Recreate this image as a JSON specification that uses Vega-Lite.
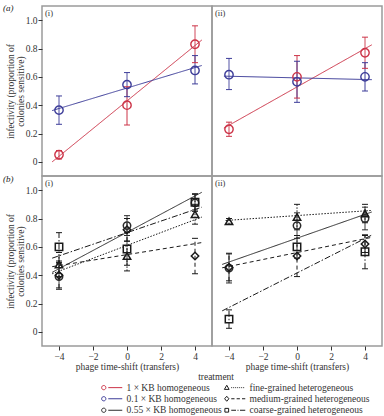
{
  "$schema": "https://vega.github.io/schema/vega-lite/v6.json",
  "padding": {"left": 2, "top": 3, "right": 3, "bottom": 2},
  "bounds": "flush",
  "spacing": 0,
  "columns": 2,
  "datasets": {
    "points": [
      {"panel": "a-i", "treatment": "1 × KB homogeneous", "shift": -4, "infectivity": 0.05, "lo": 0.02, "hi": 0.08},
      {"panel": "a-i", "treatment": "1 × KB homogeneous", "shift": 0, "infectivity": 0.40, "lo": 0.26, "hi": 0.53},
      {"panel": "a-i", "treatment": "1 × KB homogeneous", "shift": 4, "infectivity": 0.83, "lo": 0.70, "hi": 0.96},
      {"panel": "a-i", "treatment": "0.1 × KB homogeneous", "shift": -4, "infectivity": 0.365, "lo": 0.265, "hi": 0.465},
      {"panel": "a-i", "treatment": "0.1 × KB homogeneous", "shift": 0, "infectivity": 0.545, "lo": 0.46, "hi": 0.63},
      {"panel": "a-i", "treatment": "0.1 × KB homogeneous", "shift": 4, "infectivity": 0.645, "lo": 0.55, "hi": 0.75},
      {"panel": "a-ii", "treatment": "1 × KB homogeneous", "shift": -4, "infectivity": 0.23, "lo": 0.18, "hi": 0.28},
      {"panel": "a-ii", "treatment": "1 × KB homogeneous", "shift": 0, "infectivity": 0.60, "lo": 0.45, "hi": 0.75},
      {"panel": "a-ii", "treatment": "1 × KB homogeneous", "shift": 4, "infectivity": 0.77, "lo": 0.66, "hi": 0.88},
      {"panel": "a-ii", "treatment": "0.1 × KB homogeneous", "shift": -4, "infectivity": 0.615, "lo": 0.51, "hi": 0.73},
      {"panel": "a-ii", "treatment": "0.1 × KB homogeneous", "shift": 0, "infectivity": 0.565, "lo": 0.42, "hi": 0.71},
      {"panel": "a-ii", "treatment": "0.1 × KB homogeneous", "shift": 4, "infectivity": 0.60, "lo": 0.50, "hi": 0.70},
      {"panel": "b-i", "treatment": "0.55 × KB homogeneous", "shift": -4, "infectivity": 0.39, "lo": 0.30, "hi": 0.48},
      {"panel": "b-i", "treatment": "0.55 × KB homogeneous", "shift": 0, "infectivity": 0.75, "lo": 0.68, "hi": 0.82},
      {"panel": "b-i", "treatment": "0.55 × KB homogeneous", "shift": 4, "infectivity": 0.91, "lo": 0.85, "hi": 0.97},
      {"panel": "b-i", "treatment": "fine-grained heterogeneous", "shift": -4, "infectivity": 0.475, "lo": 0.39, "hi": 0.56},
      {"panel": "b-i", "treatment": "fine-grained heterogeneous", "shift": 0, "infectivity": 0.535, "lo": 0.43, "hi": 0.64},
      {"panel": "b-i", "treatment": "fine-grained heterogeneous", "shift": 4, "infectivity": 0.83, "lo": 0.76, "hi": 0.90},
      {"panel": "b-i", "treatment": "medium-grained heterogeneous", "shift": -4, "infectivity": 0.40, "lo": 0.31, "hi": 0.49},
      {"panel": "b-i", "treatment": "medium-grained heterogeneous", "shift": 0, "infectivity": 0.72, "lo": 0.64, "hi": 0.80},
      {"panel": "b-i", "treatment": "medium-grained heterogeneous", "shift": 4, "infectivity": 0.535, "lo": 0.41, "hi": 0.66},
      {"panel": "b-i", "treatment": "coarse-grained heterogeneous", "shift": -4, "infectivity": 0.60, "lo": 0.50, "hi": 0.70},
      {"panel": "b-i", "treatment": "coarse-grained heterogeneous", "shift": 0, "infectivity": 0.585, "lo": 0.47, "hi": 0.70},
      {"panel": "b-i", "treatment": "coarse-grained heterogeneous", "shift": 4, "infectivity": 0.915, "lo": 0.86, "hi": 0.975},
      {"panel": "b-ii", "treatment": "0.55 × KB homogeneous", "shift": -4, "infectivity": 0.45, "lo": 0.345, "hi": 0.555},
      {"panel": "b-ii", "treatment": "0.55 × KB homogeneous", "shift": 0, "infectivity": 0.75, "lo": 0.66, "hi": 0.84},
      {"panel": "b-ii", "treatment": "0.55 × KB homogeneous", "shift": 4, "infectivity": 0.80, "lo": 0.72, "hi": 0.88},
      {"panel": "b-ii", "treatment": "fine-grained heterogeneous", "shift": -4, "infectivity": 0.78, "lo": 0.76, "hi": 0.80},
      {"panel": "b-ii", "treatment": "fine-grained heterogeneous", "shift": 0, "infectivity": 0.81, "lo": 0.72, "hi": 0.90},
      {"panel": "b-ii", "treatment": "fine-grained heterogeneous", "shift": 4, "infectivity": 0.835, "lo": 0.77, "hi": 0.90},
      {"panel": "b-ii", "treatment": "medium-grained heterogeneous", "shift": -4, "infectivity": 0.455, "lo": 0.36, "hi": 0.55},
      {"panel": "b-ii", "treatment": "medium-grained heterogeneous", "shift": 0, "infectivity": 0.535, "lo": 0.39, "hi": 0.68},
      {"panel": "b-ii", "treatment": "medium-grained heterogeneous", "shift": 4, "infectivity": 0.62, "lo": 0.56, "hi": 0.68},
      {"panel": "b-ii", "treatment": "coarse-grained heterogeneous", "shift": -4, "infectivity": 0.09, "lo": 0.025, "hi": 0.155},
      {"panel": "b-ii", "treatment": "coarse-grained heterogeneous", "shift": 0, "infectivity": 0.60, "lo": 0.52, "hi": 0.68},
      {"panel": "b-ii", "treatment": "coarse-grained heterogeneous", "shift": 4, "infectivity": 0.565, "lo": 0.445, "hi": 0.685}
    ],
    "fits": [
      {"panel": "a-i", "treatment": "1 × KB homogeneous", "shift": -4.4, "fit": 0.0},
      {"panel": "a-i", "treatment": "1 × KB homogeneous", "shift": 4.4, "fit": 0.86},
      {"panel": "a-i", "treatment": "0.1 × KB homogeneous", "shift": -4.4, "fit": 0.362},
      {"panel": "a-i", "treatment": "0.1 × KB homogeneous", "shift": 4.4, "fit": 0.68},
      {"panel": "a-ii", "treatment": "1 × KB homogeneous", "shift": -4.3, "fit": 0.238},
      {"panel": "a-ii", "treatment": "1 × KB homogeneous", "shift": 4.4, "fit": 0.826},
      {"panel": "a-ii", "treatment": "0.1 × KB homogeneous", "shift": -4.3, "fit": 0.605},
      {"panel": "a-ii", "treatment": "0.1 × KB homogeneous", "shift": 4.4, "fit": 0.58},
      {"panel": "b-i", "treatment": "0.55 × KB homogeneous", "shift": -4.4, "fit": 0.42},
      {"panel": "b-i", "treatment": "0.55 × KB homogeneous", "shift": 4.4, "fit": 0.985},
      {"panel": "b-i", "treatment": "fine-grained heterogeneous", "shift": -4.4, "fit": 0.41},
      {"panel": "b-i", "treatment": "fine-grained heterogeneous", "shift": 4.4, "fit": 0.81},
      {"panel": "b-i", "treatment": "medium-grained heterogeneous", "shift": -4.4, "fit": 0.46},
      {"panel": "b-i", "treatment": "medium-grained heterogeneous", "shift": 4.4, "fit": 0.63},
      {"panel": "b-i", "treatment": "coarse-grained heterogeneous", "shift": -4.4, "fit": 0.52},
      {"panel": "b-i", "treatment": "coarse-grained heterogeneous", "shift": 4.4, "fit": 0.88},
      {"panel": "b-ii", "treatment": "0.55 × KB homogeneous", "shift": -4.4, "fit": 0.476},
      {"panel": "b-ii", "treatment": "0.55 × KB homogeneous", "shift": 4.4, "fit": 0.846},
      {"panel": "b-ii", "treatment": "fine-grained heterogeneous", "shift": -4.2, "fit": 0.786},
      {"panel": "b-ii", "treatment": "fine-grained heterogeneous", "shift": 4.4, "fit": 0.857},
      {"panel": "b-ii", "treatment": "medium-grained heterogeneous", "shift": -4.4, "fit": 0.452},
      {"panel": "b-ii", "treatment": "medium-grained heterogeneous", "shift": 4.4, "fit": 0.667},
      {"panel": "b-ii", "treatment": "coarse-grained heterogeneous", "shift": -4.4, "fit": 0.148},
      {"panel": "b-ii", "treatment": "coarse-grained heterogeneous", "shift": 4.4, "fit": 0.683}
    ]
  },
  "concat": [
    {
      "width": 170, "height": 170,
      "layer": [
        {"data": {"name": "fits"}, "transform": [{"filter": "datum.panel === 'a-i'"}],
         "mark": {"type": "line", "strokeWidth": 1},
         "encoding": {
           "x": {"field": "shift", "type": "quantitative", "scale": {"domain": [-5, 5], "nice": false}, "axis": null},
           "y": {"field": "fit", "type": "quantitative", "scale": {"domain": [-0.1, 1.1], "nice": false, "zero": false},
                 "axis": {"title": ["infectivity (proportion of", "colonies sensitive)"], "values": [0, 0.2, 0.4, 0.6, 0.8, 1], "labelExpr": "datum.value === 0 ? '0' : format(datum.value, '.1f')", "titlePadding": 0, "titleLineHeight": 9.5, "labelOverlap": false}},
           "color": {"field": "treatment", "type": "nominal",
             "scale": {"domain": ["1 × KB homogeneous", "0.1 × KB homogeneous", "0.55 × KB homogeneous", "fine-grained heterogeneous", "medium-grained heterogeneous", "coarse-grained heterogeneous"],
                       "range": ["#cc3347", "#3d3d99", "#2b2b2b", "#1a1a1a", "#1a1a1a", "#1a1a1a"]}},
           "strokeDash": {"field": "treatment", "type": "nominal", "legend": null,
             "scale": {"range": [[1, 0], [1, 0], [1, 0], [6, 2, 1.5, 2], [1.5, 1.5], [4, 3]]}}
         }},
        {"data": {"name": "points"}, "transform": [{"filter": "datum.panel === 'a-i'"}],
         "mark": {"type": "rule", "strokeWidth": 1},
         "encoding": {
           "x": {"field": "shift", "type": "quantitative", "axis": null},
           "y": {"field": "lo", "type": "quantitative",
                 "axis": {"title": ["infectivity (proportion of", "colonies sensitive)"], "values": [0, 0.2, 0.4, 0.6, 0.8, 1], "labelExpr": "datum.value === 0 ? '0' : format(datum.value, '.1f')", "titlePadding": 0, "titleLineHeight": 9.5, "labelOverlap": false}},
           "y2": {"field": "hi"},
           "color": {"field": "treatment", "type": "nominal"},
           "strokeDash": {"field": "treatment", "type": "nominal", "legend": null}
         }},
        {"data": {"name": "points"}, "transform": [{"filter": "datum.panel === 'a-i'"}, {"fold": ["lo", "hi"], "as": ["end", "bound"]}],
         "mark": {"type": "point", "shape": "stroke", "size": 36, "strokeWidth": 1, "opacity": 1},
         "encoding": {
           "x": {"field": "shift", "type": "quantitative", "axis": null},
           "y": {"field": "bound", "type": "quantitative",
                 "axis": {"title": ["infectivity (proportion of", "colonies sensitive)"], "values": [0, 0.2, 0.4, 0.6, 0.8, 1], "labelExpr": "datum.value === 0 ? '0' : format(datum.value, '.1f')", "titlePadding": 0, "titleLineHeight": 9.5, "labelOverlap": false}},
           "color": {"field": "treatment", "type": "nominal"}
         }},
        {"data": {"name": "points"}, "transform": [{"filter": "datum.panel === 'a-i'"}],
         "mark": {"type": "point", "filled": false, "size": 70, "strokeWidth": 1.4, "opacity": 1, "shape": "circle"},
         "encoding": {
           "x": {"field": "shift", "type": "quantitative", "axis": null},
           "y": {"field": "infectivity", "type": "quantitative",
                 "axis": {"title": ["infectivity (proportion of", "colonies sensitive)"], "values": [0, 0.2, 0.4, 0.6, 0.8, 1], "labelExpr": "datum.value === 0 ? '0' : format(datum.value, '.1f')", "titlePadding": 0, "titleLineHeight": 9.5, "labelOverlap": false}},
           "color": {"field": "treatment", "type": "nominal", "legend": {"title": "treatment"}}
         }},
        {"description": "legend key: marker plus line sample per treatment, drawn at zero size in the plot",
         "data": {"name": "points"}, "transform": [{"filter": "datum.panel === 'a-i'"}],
         "mark": {"type": "point", "filled": false, "size": 0, "strokeWidth": 1, "opacity": 1},
         "encoding": {
           "x": {"field": "shift", "type": "quantitative", "axis": null},
           "y": {"field": "infectivity", "type": "quantitative",
                 "axis": {"title": ["infectivity (proportion of", "colonies sensitive)"], "values": [0, 0.2, 0.4, 0.6, 0.8, 1], "labelExpr": "datum.value === 0 ? '0' : format(datum.value, '.1f')", "titlePadding": 0, "titleLineHeight": 9.5, "labelOverlap": false}},
           "color": {"field": "treatment", "type": "nominal", "legend": {"title": "treatment"}},
           "shape": {"field": "treatment", "type": "nominal", "legend": {"title": "treatment"},
             "scale": {"domain": ["1 × KB homogeneous", "0.1 × KB homogeneous", "0.55 × KB homogeneous", "fine-grained heterogeneous", "medium-grained heterogeneous", "coarse-grained heterogeneous"],
                       "range": [
                         "M-0.85,0A0.85,0.85,0,1,0,0.85,0A0.85,0.85,0,1,0,-0.85,0ZM1.8,0H7.4",
                         "M-0.85,0A0.85,0.85,0,1,0,0.85,0A0.85,0.85,0,1,0,-0.85,0ZM1.8,0H7.4",
                         "M-0.85,0A0.85,0.85,0,1,0,0.85,0A0.85,0.85,0,1,0,-0.85,0ZM1.8,0H7.4",
                         "M0,-0.95L0.95,0.7L-0.95,0.7ZM1.8,0h0.35M2.6,0h0.35M3.4,0h0.35M4.2,0h0.35M5,0h0.35M5.8,0h0.35M6.6,0h0.35",
                         "M0,-1L0.85,0L0,1L-0.85,0ZM1.8,0h1.3M3.95,0h1.3M6.1,0h1.3",
                         "M-0.75,-0.75H0.75V0.75H-0.75ZM1.8,0h1.9M4.3,0h0.4M5.3,0h2.1"
                       ]}}
         }},
        {"data": {"values": [{"label": "(i)"}]},
         "mark": {"type": "text", "align": "left", "baseline": "top", "dx": 3, "dy": 3, "fontSize": 8.5, "color": "#333"},
         "encoding": {
           "x": {"datum": -5, "type": "quantitative", "axis": null},
           "y": {"datum": 1.1, "type": "quantitative",
                 "axis": {"title": ["infectivity (proportion of", "colonies sensitive)"], "values": [0, 0.2, 0.4, 0.6, 0.8, 1], "labelExpr": "datum.value === 0 ? '0' : format(datum.value, '.1f')", "titlePadding": 0, "titleLineHeight": 9.5, "labelOverlap": false}},
           "text": {"field": "label"}}},
        {"data": {"values": [{"label": "(a)"}]},
         "mark": {"type": "text", "align": "left", "baseline": "top", "dx": -39, "dy": -2, "fontSize": 9, "fontStyle": "italic", "color": "#222"},
         "encoding": {
           "x": {"datum": -5, "type": "quantitative", "axis": null},
           "y": {"datum": 1.1, "type": "quantitative",
                 "axis": {"title": ["infectivity (proportion of", "colonies sensitive)"], "values": [0, 0.2, 0.4, 0.6, 0.8, 1], "labelExpr": "datum.value === 0 ? '0' : format(datum.value, '.1f')", "titlePadding": 0, "titleLineHeight": 9.5, "labelOverlap": false}},
           "text": {"field": "label"}}}
      ]
    },
    {
      "width": 170, "height": 170,
      "layer": [
        {"data": {"name": "fits"}, "transform": [{"filter": "datum.panel === 'a-ii'"}],
         "mark": {"type": "line", "strokeWidth": 1},
         "encoding": {
           "x": {"field": "shift", "type": "quantitative", "scale": {"domain": [-5, 5], "nice": false}, "axis": null},
           "y": {"field": "fit", "type": "quantitative", "scale": {"domain": [-0.1, 1.1], "nice": false, "zero": false}, "axis": null},
           "color": {"field": "treatment", "type": "nominal"},
           "strokeDash": {"field": "treatment", "type": "nominal", "legend": null}
         }},
        {"data": {"name": "points"}, "transform": [{"filter": "datum.panel === 'a-ii'"}],
         "mark": {"type": "rule", "strokeWidth": 1},
         "encoding": {
           "x": {"field": "shift", "type": "quantitative", "axis": null},
           "y": {"field": "lo", "type": "quantitative", "axis": null},
           "y2": {"field": "hi"},
           "color": {"field": "treatment", "type": "nominal"},
           "strokeDash": {"field": "treatment", "type": "nominal", "legend": null}
         }},
        {"data": {"name": "points"}, "transform": [{"filter": "datum.panel === 'a-ii'"}, {"fold": ["lo", "hi"], "as": ["end", "bound"]}],
         "mark": {"type": "point", "shape": "stroke", "size": 36, "strokeWidth": 1, "opacity": 1},
         "encoding": {
           "x": {"field": "shift", "type": "quantitative", "axis": null},
           "y": {"field": "bound", "type": "quantitative", "axis": null},
           "color": {"field": "treatment", "type": "nominal"}
         }},
        {"data": {"name": "points"}, "transform": [{"filter": "datum.panel === 'a-ii'"}],
         "mark": {"type": "point", "filled": false, "size": 70, "strokeWidth": 1.4, "opacity": 1, "shape": "circle"},
         "encoding": {
           "x": {"field": "shift", "type": "quantitative", "axis": null},
           "y": {"field": "infectivity", "type": "quantitative", "axis": null},
           "color": {"field": "treatment", "type": "nominal", "legend": {"title": "treatment"}}
         }},
        {"data": {"values": [{"label": "(ii)"}]},
         "mark": {"type": "text", "align": "left", "baseline": "top", "dx": 3, "dy": 3, "fontSize": 8.5, "color": "#333"},
         "encoding": {
           "x": {"datum": -5, "type": "quantitative", "axis": null},
           "y": {"datum": 1.1, "type": "quantitative", "axis": null},
           "text": {"field": "label"}}}
      ]
    },
    {
      "width": 170, "height": 170,
      "layer": [
        {"data": {"name": "fits"}, "transform": [{"filter": "datum.panel === 'b-i'"}],
         "mark": {"type": "line", "strokeWidth": 1},
         "encoding": {
           "x": {"field": "shift", "type": "quantitative", "scale": {"domain": [-5, 5], "nice": false},
                 "axis": {"title": "phage time-shift (transfers)", "values": [-4, -2, 0, 2, 4], "titlePadding": 1}},
           "y": {"field": "fit", "type": "quantitative", "scale": {"domain": [-0.1, 1.1], "nice": false, "zero": false},
                 "axis": {"title": ["infectivity (proportion of", "colonies sensitive)"], "values": [0, 0.2, 0.4, 0.6, 0.8, 1], "labelExpr": "datum.value === 0 ? '0' : format(datum.value, '.1f')", "titlePadding": 0, "titleLineHeight": 9.5, "labelOverlap": false}},
           "color": {"field": "treatment", "type": "nominal"},
           "strokeDash": {"field": "treatment", "type": "nominal", "legend": null}
         }},
        {"data": {"name": "points"}, "transform": [{"filter": "datum.panel === 'b-i'"}],
         "mark": {"type": "rule", "strokeWidth": 1},
         "encoding": {
           "x": {"field": "shift", "type": "quantitative",
                 "axis": {"title": "phage time-shift (transfers)", "values": [-4, -2, 0, 2, 4], "titlePadding": 1}},
           "y": {"field": "lo", "type": "quantitative",
                 "axis": {"title": ["infectivity (proportion of", "colonies sensitive)"], "values": [0, 0.2, 0.4, 0.6, 0.8, 1], "labelExpr": "datum.value === 0 ? '0' : format(datum.value, '.1f')", "titlePadding": 0, "titleLineHeight": 9.5, "labelOverlap": false}},
           "y2": {"field": "hi"},
           "color": {"field": "treatment", "type": "nominal"},
           "strokeDash": {"field": "treatment", "type": "nominal", "legend": null}
         }},
        {"data": {"name": "points"}, "transform": [{"filter": "datum.panel === 'b-i'"}, {"fold": ["lo", "hi"], "as": ["end", "bound"]}],
         "mark": {"type": "point", "shape": "stroke", "size": 36, "strokeWidth": 1, "opacity": 1},
         "encoding": {
           "x": {"field": "shift", "type": "quantitative",
                 "axis": {"title": "phage time-shift (transfers)", "values": [-4, -2, 0, 2, 4], "titlePadding": 1}},
           "y": {"field": "bound", "type": "quantitative",
                 "axis": {"title": ["infectivity (proportion of", "colonies sensitive)"], "values": [0, 0.2, 0.4, 0.6, 0.8, 1], "labelExpr": "datum.value === 0 ? '0' : format(datum.value, '.1f')", "titlePadding": 0, "titleLineHeight": 9.5, "labelOverlap": false}},
           "color": {"field": "treatment", "type": "nominal"}
         }},
        {"data": {"name": "points"}, "transform": [{"filter": "datum.panel === 'b-i' && indexof(datum.treatment, 'homogeneous') >= 0"}],
         "mark": {"type": "point", "filled": false, "size": 55, "strokeWidth": 1.5, "opacity": 1, "shape": "circle"},
         "encoding": {
           "x": {"field": "shift", "type": "quantitative",
                 "axis": {"title": "phage time-shift (transfers)", "values": [-4, -2, 0, 2, 4], "titlePadding": 1}},
           "y": {"field": "infectivity", "type": "quantitative",
                 "axis": {"title": ["infectivity (proportion of", "colonies sensitive)"], "values": [0, 0.2, 0.4, 0.6, 0.8, 1], "labelExpr": "datum.value === 0 ? '0' : format(datum.value, '.1f')", "titlePadding": 0, "titleLineHeight": 9.5, "labelOverlap": false}},
           "color": {"field": "treatment", "type": "nominal", "legend": {"title": "treatment"}}
         }},
        {"data": {"name": "points"}, "transform": [{"filter": "datum.panel === 'b-i' && indexof(datum.treatment, 'fine') >= 0"}],
         "mark": {"type": "point", "filled": false, "size": 55, "strokeWidth": 1.5, "opacity": 1, "shape": "triangle-up"},
         "encoding": {
           "x": {"field": "shift", "type": "quantitative",
                 "axis": {"title": "phage time-shift (transfers)", "values": [-4, -2, 0, 2, 4], "titlePadding": 1}},
           "y": {"field": "infectivity", "type": "quantitative",
                 "axis": {"title": ["infectivity (proportion of", "colonies sensitive)"], "values": [0, 0.2, 0.4, 0.6, 0.8, 1], "labelExpr": "datum.value === 0 ? '0' : format(datum.value, '.1f')", "titlePadding": 0, "titleLineHeight": 9.5, "labelOverlap": false}},
           "color": {"field": "treatment", "type": "nominal", "legend": {"title": "treatment"}}
         }},
        {"data": {"name": "points"}, "transform": [{"filter": "datum.panel === 'b-i' && indexof(datum.treatment, 'medium') >= 0"}],
         "mark": {"type": "point", "filled": false, "size": 55, "strokeWidth": 1.5, "opacity": 1, "shape": "diamond"},
         "encoding": {
           "x": {"field": "shift", "type": "quantitative",
                 "axis": {"title": "phage time-shift (transfers)", "values": [-4, -2, 0, 2, 4], "titlePadding": 1}},
           "y": {"field": "infectivity", "type": "quantitative",
                 "axis": {"title": ["infectivity (proportion of", "colonies sensitive)"], "values": [0, 0.2, 0.4, 0.6, 0.8, 1], "labelExpr": "datum.value === 0 ? '0' : format(datum.value, '.1f')", "titlePadding": 0, "titleLineHeight": 9.5, "labelOverlap": false}},
           "color": {"field": "treatment", "type": "nominal", "legend": {"title": "treatment"}}
         }},
        {"data": {"name": "points"}, "transform": [{"filter": "datum.panel === 'b-i' && indexof(datum.treatment, 'coarse') >= 0"}],
         "mark": {"type": "point", "filled": false, "size": 55, "strokeWidth": 1.5, "opacity": 1, "shape": "square"},
         "encoding": {
           "x": {"field": "shift", "type": "quantitative",
                 "axis": {"title": "phage time-shift (transfers)", "values": [-4, -2, 0, 2, 4], "titlePadding": 1}},
           "y": {"field": "infectivity", "type": "quantitative",
                 "axis": {"title": ["infectivity (proportion of", "colonies sensitive)"], "values": [0, 0.2, 0.4, 0.6, 0.8, 1], "labelExpr": "datum.value === 0 ? '0' : format(datum.value, '.1f')", "titlePadding": 0, "titleLineHeight": 9.5, "labelOverlap": false}},
           "color": {"field": "treatment", "type": "nominal", "legend": {"title": "treatment"}}
         }},
        {"data": {"values": [{"label": "(i)"}]},
         "mark": {"type": "text", "align": "left", "baseline": "top", "dx": 3, "dy": 3, "fontSize": 8.5, "color": "#333"},
         "encoding": {
           "x": {"datum": -5, "type": "quantitative",
                 "axis": {"title": "phage time-shift (transfers)", "values": [-4, -2, 0, 2, 4], "titlePadding": 1}},
           "y": {"datum": 1.1, "type": "quantitative",
                 "axis": {"title": ["infectivity (proportion of", "colonies sensitive)"], "values": [0, 0.2, 0.4, 0.6, 0.8, 1], "labelExpr": "datum.value === 0 ? '0' : format(datum.value, '.1f')", "titlePadding": 0, "titleLineHeight": 9.5, "labelOverlap": false}},
           "text": {"field": "label"}}},
        {"data": {"values": [{"label": "(b)"}]},
         "mark": {"type": "text", "align": "left", "baseline": "top", "dx": -39, "dy": -1, "fontSize": 9, "fontStyle": "italic", "color": "#222"},
         "encoding": {
           "x": {"datum": -5, "type": "quantitative",
                 "axis": {"title": "phage time-shift (transfers)", "values": [-4, -2, 0, 2, 4], "titlePadding": 1}},
           "y": {"datum": 1.1, "type": "quantitative",
                 "axis": {"title": ["infectivity (proportion of", "colonies sensitive)"], "values": [0, 0.2, 0.4, 0.6, 0.8, 1], "labelExpr": "datum.value === 0 ? '0' : format(datum.value, '.1f')", "titlePadding": 0, "titleLineHeight": 9.5, "labelOverlap": false}},
           "text": {"field": "label"}}}
      ]
    },
    {
      "width": 170, "height": 170,
      "layer": [
        {"data": {"name": "fits"}, "transform": [{"filter": "datum.panel === 'b-ii'"}],
         "mark": {"type": "line", "strokeWidth": 1},
         "encoding": {
           "x": {"field": "shift", "type": "quantitative", "scale": {"domain": [-5, 5], "nice": false},
                 "axis": {"title": "phage time-shift (transfers)", "values": [-4, -2, 0, 2, 4], "titlePadding": 1}},
           "y": {"field": "fit", "type": "quantitative", "scale": {"domain": [-0.1, 1.1], "nice": false, "zero": false}, "axis": null},
           "color": {"field": "treatment", "type": "nominal"},
           "strokeDash": {"field": "treatment", "type": "nominal", "legend": null}
         }},
        {"data": {"name": "points"}, "transform": [{"filter": "datum.panel === 'b-ii'"}],
         "mark": {"type": "rule", "strokeWidth": 1},
         "encoding": {
           "x": {"field": "shift", "type": "quantitative",
                 "axis": {"title": "phage time-shift (transfers)", "values": [-4, -2, 0, 2, 4], "titlePadding": 1}},
           "y": {"field": "lo", "type": "quantitative", "axis": null},
           "y2": {"field": "hi"},
           "color": {"field": "treatment", "type": "nominal"},
           "strokeDash": {"field": "treatment", "type": "nominal", "legend": null}
         }},
        {"data": {"name": "points"}, "transform": [{"filter": "datum.panel === 'b-ii'"}, {"fold": ["lo", "hi"], "as": ["end", "bound"]}],
         "mark": {"type": "point", "shape": "stroke", "size": 36, "strokeWidth": 1, "opacity": 1},
         "encoding": {
           "x": {"field": "shift", "type": "quantitative",
                 "axis": {"title": "phage time-shift (transfers)", "values": [-4, -2, 0, 2, 4], "titlePadding": 1}},
           "y": {"field": "bound", "type": "quantitative", "axis": null},
           "color": {"field": "treatment", "type": "nominal"}
         }},
        {"data": {"name": "points"}, "transform": [{"filter": "datum.panel === 'b-ii' && indexof(datum.treatment, 'homogeneous') >= 0"}],
         "mark": {"type": "point", "filled": false, "size": 55, "strokeWidth": 1.5, "opacity": 1, "shape": "circle"},
         "encoding": {
           "x": {"field": "shift", "type": "quantitative",
                 "axis": {"title": "phage time-shift (transfers)", "values": [-4, -2, 0, 2, 4], "titlePadding": 1}},
           "y": {"field": "infectivity", "type": "quantitative", "axis": null},
           "color": {"field": "treatment", "type": "nominal", "legend": {"title": "treatment"}}
         }},
        {"data": {"name": "points"}, "transform": [{"filter": "datum.panel === 'b-ii' && indexof(datum.treatment, 'fine') >= 0"}],
         "mark": {"type": "point", "filled": false, "size": 55, "strokeWidth": 1.5, "opacity": 1, "shape": "triangle-up"},
         "encoding": {
           "x": {"field": "shift", "type": "quantitative",
                 "axis": {"title": "phage time-shift (transfers)", "values": [-4, -2, 0, 2, 4], "titlePadding": 1}},
           "y": {"field": "infectivity", "type": "quantitative", "axis": null},
           "color": {"field": "treatment", "type": "nominal", "legend": {"title": "treatment"}}
         }},
        {"data": {"name": "points"}, "transform": [{"filter": "datum.panel === 'b-ii' && indexof(datum.treatment, 'medium') >= 0"}],
         "mark": {"type": "point", "filled": false, "size": 55, "strokeWidth": 1.5, "opacity": 1, "shape": "diamond"},
         "encoding": {
           "x": {"field": "shift", "type": "quantitative",
                 "axis": {"title": "phage time-shift (transfers)", "values": [-4, -2, 0, 2, 4], "titlePadding": 1}},
           "y": {"field": "infectivity", "type": "quantitative", "axis": null},
           "color": {"field": "treatment", "type": "nominal", "legend": {"title": "treatment"}}
         }},
        {"data": {"name": "points"}, "transform": [{"filter": "datum.panel === 'b-ii' && indexof(datum.treatment, 'coarse') >= 0"}],
         "mark": {"type": "point", "filled": false, "size": 55, "strokeWidth": 1.5, "opacity": 1, "shape": "square"},
         "encoding": {
           "x": {"field": "shift", "type": "quantitative",
                 "axis": {"title": "phage time-shift (transfers)", "values": [-4, -2, 0, 2, 4], "titlePadding": 1}},
           "y": {"field": "infectivity", "type": "quantitative", "axis": null},
           "color": {"field": "treatment", "type": "nominal", "legend": {"title": "treatment"}}
         }},
        {"data": {"values": [{"label": "(ii)"}]},
         "mark": {"type": "text", "align": "left", "baseline": "top", "dx": 3, "dy": 3, "fontSize": 8.5, "color": "#333"},
         "encoding": {
           "x": {"datum": -5, "type": "quantitative",
                 "axis": {"title": "phage time-shift (transfers)", "values": [-4, -2, 0, 2, 4], "titlePadding": 1}},
           "y": {"datum": 1.1, "type": "quantitative", "axis": null},
           "text": {"field": "label"}}}
      ]
    }
  ],
  "resolve": {"scale": {"color": "shared", "shape": "shared", "strokeDash": "shared"}},
  "config": {
    "font": "Liberation Serif",
    "view": {"stroke": "#9a9a9a", "strokeWidth": 1.5},
    "axis": {
      "labelFont": "Liberation Serif", "labelFontSize": 9.5, "labelColor": "#333",
      "titleFont": "Liberation Serif", "titleFontSize": 9.5, "titleFontWeight": "normal", "titleColor": "#333",
      "domain": false, "grid": false, "tickColor": "#333", "tickSize": 4, "tickWidth": 1, "labelPadding": 1,
      "labelOverlap": false
    },
    "legend": {
      "orient": "none",
      "legendX": 57,
      "legendY": 366,
      "columns": 2,
      "gridAlign": "each",
      "titleAnchor": "middle",
      "titleAlign": "right",
      "titleFont": "Liberation Serif",
      "titleFontSize": 9.5,
      "titleFontWeight": "normal",
      "titleColor": "#333",
      "titlePadding": 1,
      "labelFont": "Liberation Serif",
      "labelFontSize": 9.5,
      "labelColor": "#333",
      "symbolSize": 25,
      "symbolStrokeWidth": 1,
      "labelOffset": 18,
      "rowPadding": 0.5,
      "columnPadding": -14
    }
  }
}
